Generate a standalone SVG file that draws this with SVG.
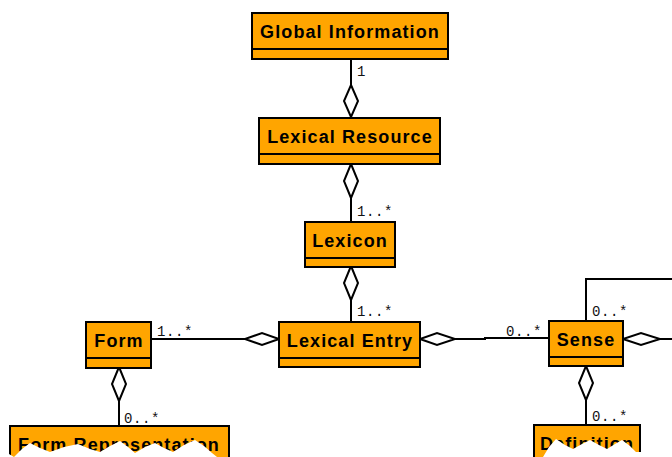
<svg xmlns="http://www.w3.org/2000/svg" width="672" height="457" viewBox="0 0 672 457">
<style>
.box{fill:#FFA500;stroke:#000;stroke-width:2}
.div{stroke:#000;stroke-width:2}
.name{font-family:"Liberation Sans",Arial,sans-serif;font-size:18px;font-weight:bold;letter-spacing:1.1px;fill:#000;text-anchor:middle}
.ln{fill:none;stroke:#000;stroke-width:2}
.dia{fill:#fff;stroke:#000;stroke-width:2}
.mul{font-family:"Liberation Mono","DejaVu Sans Mono",monospace;font-size:14px;letter-spacing:0.6px;fill:#111}
.tear{fill:#fff;stroke:none}
</style>
<rect width="672" height="457" fill="#fff"/>
<g id="connectors">
  <line class="ln" x1="351" y1="59" x2="351" y2="118"/>
  <polygon class="dia" points="351,85 358,101 351,117 344,101"/>
  <text class="mul" x="357" y="76">1</text>

  <line class="ln" x1="351" y1="164" x2="351" y2="222"/>
  <polygon class="dia" points="351,164 358,181 351,198 344,181"/>
  <text class="mul" x="357" y="216">1..*</text>

  <line class="ln" x1="351" y1="267" x2="351" y2="322"/>
  <polygon class="dia" points="351,266 358,283 351,300 344,283"/>
  <text class="mul" x="357" y="316">1..*</text>

  <line class="ln" x1="151" y1="339" x2="279" y2="339"/>
  <polygon class="dia" points="279,339 262,345 245,339 262,333"/>
  <text class="mul" x="157" y="336">1..*</text>

  <line class="ln" x1="119" y1="368" x2="119" y2="426"/>
  <polygon class="dia" points="119,367 126,384 119,401 112,384"/>
  <text class="mul" x="124" y="423">0..*</text>

  <polyline class="ln" points="420,339 485,339 485,338 549,338"/>
  <polygon class="dia" points="420,339 437,345 455,339 437,333"/>
  <text class="mul" x="506" y="336">0..*</text>

  <polyline class="ln" points="586,321 586,279 672,279"/>
  <text class="mul" x="592" y="316">0..*</text>

  <line class="ln" x1="623" y1="339" x2="672" y2="339"/>
  <polygon class="dia" points="623,339 641,345 660,339 641,333"/>

  <line class="ln" x1="586" y1="366" x2="586" y2="425"/>
  <polygon class="dia" points="586,366 593,383 586,400 579,383"/>
  <text class="mul" x="592" y="421">0..*</text>
</g>
<g id="global-information">
  <rect class="box" x="252" y="13" width="196" height="46"/>
  <line class="div" x1="252" y1="49" x2="448" y2="49"/>
  <text class="name" x="350" y="38">Global Information</text>
</g>
<g id="lexical-resource">
  <rect class="box" x="259" y="118" width="181" height="46"/>
  <line class="div" x1="259" y1="154" x2="440" y2="154"/>
  <text class="name" x="350" y="143">Lexical Resource</text>
</g>
<g id="lexicon">
  <rect class="box" x="305" y="222" width="90" height="45"/>
  <line class="div" x1="305" y1="258" x2="395" y2="258"/>
  <text class="name" x="350" y="247">Lexicon</text>
</g>
<g id="lexical-entry">
  <rect class="box" x="279" y="322" width="141" height="45"/>
  <line class="div" x1="279" y1="358" x2="420" y2="358"/>
  <text class="name" x="350" y="347">Lexical Entry</text>
</g>
<g id="form">
  <rect class="box" x="86" y="322" width="65" height="46"/>
  <line class="div" x1="86" y1="358" x2="151" y2="358"/>
  <text class="name" x="119" y="347">Form</text>
</g>
<g id="sense">
  <rect class="box" x="549" y="321" width="74" height="45"/>
  <line class="div" x1="549" y1="357" x2="623" y2="357"/>
  <text class="name" x="586" y="346">Sense</text>
</g>
<g id="form-representation">
  <rect class="box" x="10" y="426" width="219" height="40"/>
  <text class="name" x="119" y="451">Form Representation</text>
</g>
<g id="definition">
  <rect class="box" x="534" y="425" width="106" height="40"/>
  <text class="name" x="587" y="450">Definition</text>
</g>
<polygon class="tear" points="0,457 0,454 9,454 14,457 22,449 30,443 40,448 50,452 64,447 78,444 90,449 100,452 110,446 120,441 128,447 135,453 145,447 155,443 164,448 173,452 184,445 195,440 204,446 212,453 217,457"/>
<polygon class="tear" points="530,457 543,457 549,447 556,439 565,445 573,449 582,444 590,440 599,445 607,449 615,444 622,440 630,446 636,452 642,452 642,457"/>
</svg>
